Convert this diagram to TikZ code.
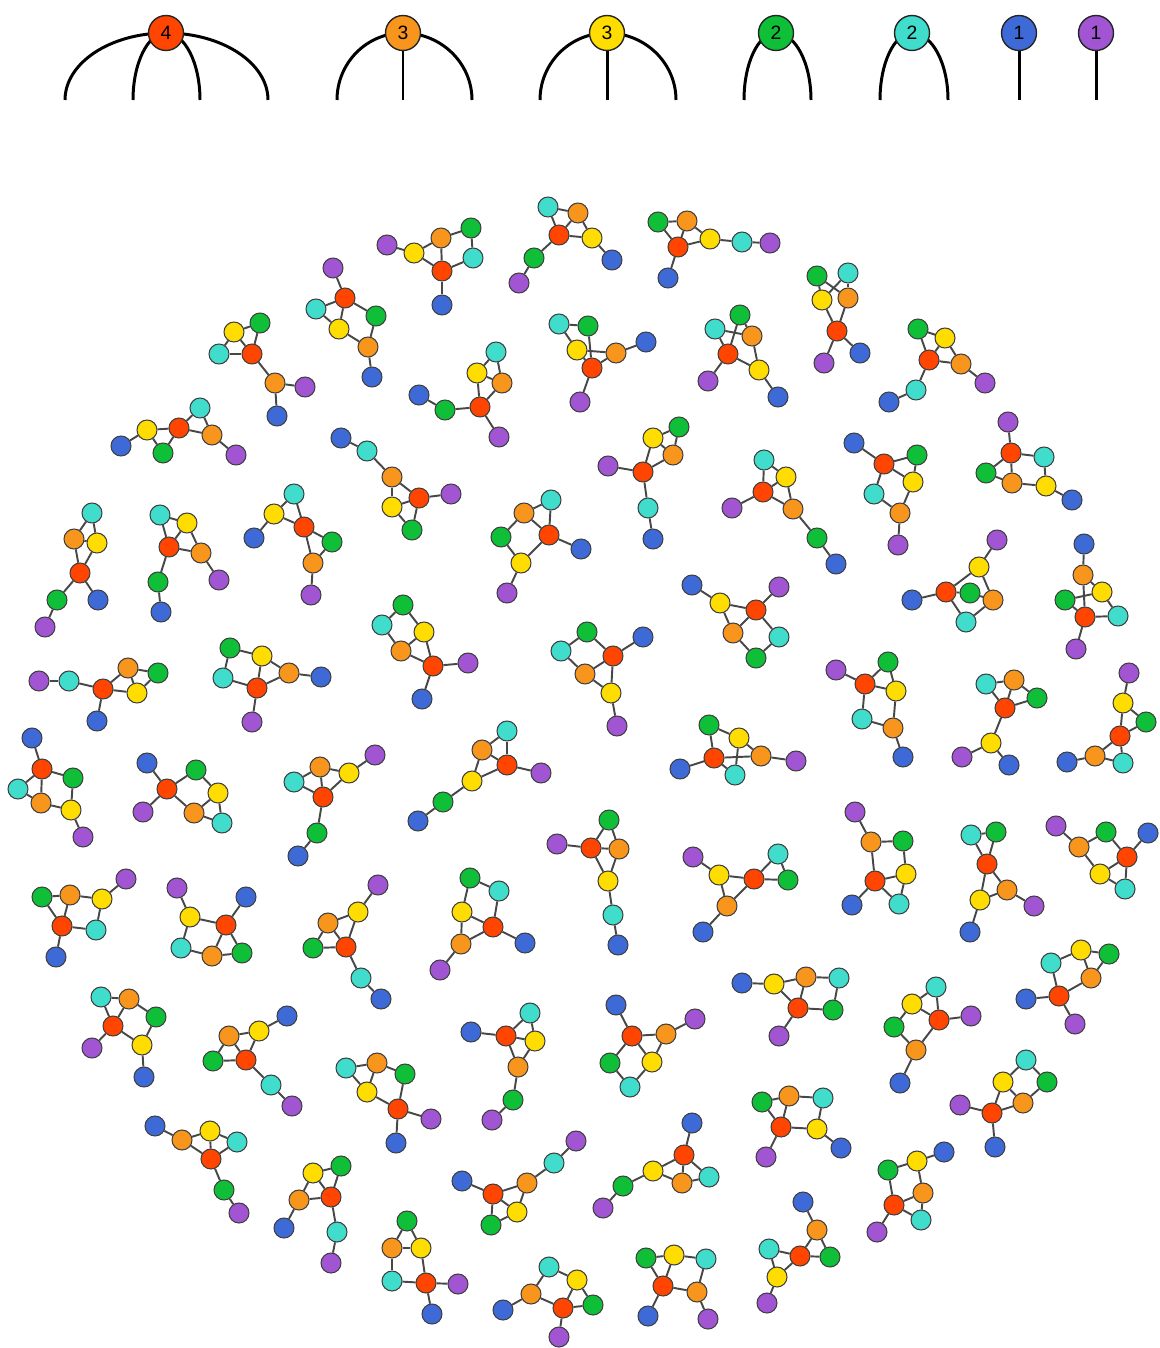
\documentclass[tikz,border=0pt]{standalone}
\usepackage{fontspec}
\setmainfont{Liberation Sans}
\pgfdeclarelayer{bg}
\pgfsetlayers{bg,main}
\definecolor{cR}{HTML}{FF4500}
\definecolor{cO}{HTML}{F8951D}
\definecolor{cY}{HTML}{FFDD00}
\definecolor{cG}{HTML}{10BF38}
\definecolor{cC}{HTML}{40DDCC}
\definecolor{cB}{HTML}{3D6AD6}
\definecolor{cP}{HTML}{A155D3}
\tikzset{
  atom/.style={circle,draw=black!75,line width=0.6pt,minimum size=0.4cm,inner sep=0pt},
  bond/.style={draw=black!72,line width=1.1pt},
  lgnode/.style={circle,draw=black!85,line width=0.8pt,minimum size=0.7cm,inner sep=0pt,font=\fontsize{11}{13}\selectfont},
  legline/.style={draw=black,line width=1.7pt}
}
\newcommand\mol[3]{%
  \foreach \t/\x/\y in {#2}{\node[atom,fill=c\t] (#1\t) at (\x,\y) {};}%
  \foreach \a/\b in {#3}{\draw[bond] (#1\a) -- (#1\b);}%
}
\newcommand\legarc[3]{\draw[legline] (#1) .. controls +(0,-37) and +(#3,0) .. (#2.center);}
\begin{document}
\begin{tikzpicture}[x=0.02cm,y=-0.02cm]
\useasboundingbox (0,0) rectangle (1159,1348);
% legend
\node[lgnode,fill=cR] (L4) at (166,33) {4};
\node[lgnode,fill=cO] (L3a) at (403,33) {3};
\node[lgnode,fill=cY] (L3b) at (607,33) {3};
\node[lgnode,fill=cG] (L2a) at (776,33) {2};
\node[lgnode,fill=cC] (L2b) at (912,33) {2};
\node[lgnode,fill=cB] (L1a) at (1019,33) {1};
\node[lgnode,fill=cP] (L1b) at (1096,33) {1};
\coordinate (e4a) at (65,100);  \coordinate (e4b) at (133,100);
\coordinate (e4c) at (200,100); \coordinate (e4d) at (268,100);
\coordinate (e3a) at (337,100); \coordinate (e3b) at (403,100); \coordinate (e3c) at (472,100);
\coordinate (e3d) at (540,100); \coordinate (e3e) at (607,100); \coordinate (e3f) at (676,100);
\coordinate (e2a) at (744,100); \coordinate (e2b) at (811,100);
\coordinate (e2c) at (880,100); \coordinate (e2d) at (948,100);
\coordinate (e1a) at (1019,100); \coordinate (e1b) at (1096,100);
\begin{pgfonlayer}{bg}
\legarc{e4a}{L4}{-55.8}
\legarc{e4b}{L4}{-18.2}
\legarc{e4c}{L4}{18.8}
\legarc{e4d}{L4}{56.3}
\legarc{e3a}{L3a}{-36.4}
\draw[legline] (e3b) -- (L3a.center);
\legarc{e3c}{L3a}{38.1}
\legarc{e3d}{L3b}{-37}
\draw[legline] (e3e) -- (L3b.center);
\legarc{e3f}{L3b}{38.1}
\legarc{e2a}{L2a}{-17.7}
\legarc{e2b}{L2a}{19.3}
\legarc{e2c}{L2b}{-17.7}
\legarc{e2d}{L2b}{19.9}
\draw[legline] (e1a) -- (L1a.center);
\draw[legline] (e1b) -- (L1b.center);
\end{pgfonlayer}
% molecules
\mol{m1}{R/442/271,O/441/238,Y/414/253,G/471/228,C/473/258,B/442/305,P/387/245}{P/Y,Y/O,Y/R,O/G,O/R,G/C,C/R,R/B}
\mol{m2}{R/559/235,O/578/213,Y/592/238,G/534/258,C/548/207,B/612/260,P/519/283}{C/O,C/R,O/R,O/Y,R/Y,Y/B,R/G,G/P}
\mol{m3}{R/678/247,O/687/221,Y/710/239,G/658/222,C/742/242,B/668/278,P/770/243}{G/O,G/R,O/R,O/Y,R/Y,Y/C,C/P,R/B}
\mol{m4}{R/480/407,O/502/383,Y/477/373,G/445/410,C/496/352,B/419/395,P/499/437}{B/G,G/R,R/Y,R/O,R/P,Y/O,Y/C,C/O}
\mol{m5}{R/592/368,O/616/353,Y/577/350,G/588/326,C/559/324,B/646/342,P/580/402}{C/G,C/Y,G/R,Y/O,Y/R,O/R,O/B,R/P}
\mol{m6}{R/728/354,O/752/336,Y/759/370,G/740/315,C/715/329,B/778/397,P/708/381}{G/R,G/O,C/O,C/R,O/Y,R/Y,R/P,Y/B}
\mol{m7}{R/643/472,O/673/455,Y/653/438,G/679/427,C/648/508,B/653/539,P/608/466}{Y/G,G/O,Y/O,Y/R,O/R,R/P,R/C,C/B}
\mol{m8}{R/345/298,O/368/347,Y/339/329,G/376/316,C/316/309,B/372/377,P/333/268}{P/R,R/C,R/G,R/Y,C/Y,Y/O,G/O,O/B}
\mol{m9}{R/252/354,O/275/383,Y/234/332,G/260/323,C/219/354,B/277/416,P/305/387}{Y/G,Y/C,Y/R,G/R,C/R,R/O,O/P,O/B}
\mol{m10}{R/179/428,O/212/435,Y/147/430,G/163/453,C/200/408,B/121/446,P/236/455}{C/R,C/O,Y/R,Y/B,Y/G,G/R,R/O,O/P}
\mol{m11}{R/419/498,O/392/477,Y/392/507,G/412/530,C/367/451,B/341/438,P/451/494}{B/C,C/O,O/R,O/Y,Y/R,R/P,Y/G,G/R}
\mol{m12}{R/837/331,O/848/298,Y/822/300,G/817/276,C/848/273,B/860/353,P/824/363}{G/O,C/Y,G/Y,C/O,Y/R,O/R,R/P,R/B}
\mol{m13}{R/929/360,O/961/364,Y/945/338,G/918/329,C/916/390,B/889/402,P/985/383}{G/Y,G/R,Y/R,Y/O,R/O,O/P,R/C,C/B}
\mol{m14}{R/884/464,O/900/513,Y/913/482,G/917/455,C/874/494,B/854/443,P/898/545}{B/R,R/G,G/Y,R/Y,R/C,C/O,Y/O,O/P}
\mol{m15}{R/1011/453,O/1012/483,Y/1046/486,G/986/473,C/1044/457,B/1072/500,P/1008/422}{P/R,R/C,R/G,R/O,G/O,C/Y,O/Y,Y/B}
\mol{m16}{R/763/492,O/793/509,Y/786/477,G/817/538,C/764/460,B/836/564,P/732/508}{C/Y,C/R,Y/R,Y/O,R/O,O/G,G/B,R/P}
\mol{m17}{R/80/573,O/74/539,Y/97/543,G/57/600,C/92/513,B/98/600,P/45/627}{C/O,C/Y,O/Y,O/R,Y/R,R/G,R/B,G/P}
\mol{m18}{R/169/547,O/201/553,Y/187/523,G/158/582,C/160/515,B/161/612,P/219/580}{C/Y,C/R,Y/R,Y/O,R/O,O/P,R/G,G/B}
\mol{m19}{R/304/527,O/313/563,Y/274/514,G/332/542,C/294/494,B/254/538,P/311/595}{C/Y,C/R,Y/R,Y/B,R/G,R/O,G/O,O/P}
\mol{m20}{R/103/689,O/128/668,Y/137/693,G/158/673,C/69/681,B/97/721,P/39/681}{P/C,C/R,R/O,R/Y,R/B,O/G,O/Y,G/Y}
\mol{m21}{R/257/688,O/289/673,Y/262/656,G/230/648,C/223/678,B/321/677,P/252/722}{G/Y,G/C,Y/R,Y/O,C/R,R/O,O/B,R/P}
\mol{m22}{R/42/769,O/41/803,Y/71/810,G/73/778,C/18/789,B/32/738,P/83/837}{B/R,R/C,R/G,R/O,C/O,O/Y,G/Y,Y/P}
\mol{m23}{R/167/789,O/194/813,Y/218/793,G/196/770,C/222/823,B/147/763,P/143/812}{B/R,R/G,G/Y,R/O,R/P,Y/O,Y/C,O/C}
\mol{m24}{R/323/797,O/320/767,Y/349/773,G/317/833,C/294/782,B/298/856,P/375/755}{C/O,C/R,O/Y,O/R,Y/P,Y/R,R/G,G/B}
\mol{m25}{R/62/926,O/70/895,Y/102/899,G/42/897,C/96/930,B/56/957,P/126/879}{G/O,G/R,O/Y,O/R,Y/P,Y/C,R/C,R/B}
\mol{m26}{R/226/925,O/212/956,Y/190/917,G/242/953,C/181/948,B/246/897,P/177/888}{P/Y,Y/R,Y/C,R/B,R/O,R/G,C/O,O/G}
\mol{m27}{R/346/947,O/328/923,Y/358/912,G/313/948,C/361/978,B/381/999,P/378/885}{P/Y,Y/O,Y/R,O/R,O/G,G/R,R/C,C/B}
\mol{m28}{R/113/1026,O/129/999,Y/142/1045,G/156/1017,C/101/997,B/144/1077,P/92/1048}{C/O,C/R,O/R,O/G,R/Y,R/P,G/Y,Y/B}
\mol{m29}{R/246/1060,O/229/1036,Y/259/1031,G/213/1061,C/271/1085,B/287/1016,P/292/1106}{B/Y,Y/O,Y/R,O/R,O/G,G/R,R/C,C/P}
\mol{m30}{R/398/1109,O/377/1063,Y/367/1092,G/405/1074,C/346/1068,B/396/1143,P/431/1119}{C/O,C/Y,O/Y,O/G,G/R,Y/R,R/P,R/B}
\mol{m31}{R/211/1159,O/182/1140,Y/210/1131,G/224/1190,C/237/1142,B/155/1126,P/239/1213}{B/O,O/Y,O/R,Y/R,Y/C,C/R,R/G,G/P}
\mol{m32}{R/331/1197,O/299/1200,Y/313/1173,G/341/1166,C/337/1232,B/284/1228,P/331/1263}{Y/G,Y/O,Y/R,G/R,O/R,O/B,R/C,C/P}
\mol{m33}{R/426/1283,O/392/1248,Y/421/1248,G/407/1221,C/392/1281,B/432/1314,P/458/1284}{G/O,G/Y,O/Y,O/C,Y/R,C/R,R/P,R/B}
\mol{m35}{R/506/1036,O/518/1067,Y/535/1041,G/513/1100,C/530/1013,B/471/1032,P/492/1120}{B/R,R/C,C/Y,R/Y,R/O,Y/O,O/G,G/P}
\mol{m36}{R/632/1036,O/666/1034,Y/652/1062,G/610/1063,C/630/1087,B/616/1005,P/695/1019}{B/R,R/O,O/P,R/G,R/Y,O/Y,G/C,C/Y}
\mol{m37}{R/493/1194,O/527/1183,Y/517/1212,G/491/1225,C/554/1163,B/462/1181,P/576/1141}{B/R,R/O,O/C,C/P,R/Y,O/Y,R/G,G/Y}
\mol{m38}{R/684/1155,O/682/1183,Y/653/1171,G/623/1186,C/709/1177,B/692/1123,P/603/1208}{B/R,R/Y,R/O,R/C,Y/O,C/O,Y/G,G/P}
\mol{m39}{R/563/1308,O/531/1294,Y/577/1280,G/593/1305,C/549/1267,B/503/1310,P/559/1337}{C/Y,C/O,Y/R,Y/G,O/R,O/B,R/G,R/P}
\mol{m40}{R/663/1286,O/697/1292,Y/674/1255,G/646/1258,C/706/1259,B/648/1316,P/708/1319}{G/Y,G/R,Y/R,Y/C,C/O,R/O,R/B,O/P}
\mol{m41}{R/939/1020,O/916/1050,Y/912/1004,G/894/1027,C/936/987,B/900/1083,P/971/1016}{C/Y,C/R,Y/R,R/P,Y/G,G/O,R/O,O/B}
\mol{m43}{R/781/1127,O/789/1096,Y/817/1129,G/762/1102,C/823/1098,B/841/1148,P/766/1157}{G/O,G/R,O/C,O/R,C/Y,R/Y,Y/B,R/P}
\mol{m44}{R/992/1113,O/1023/1103,Y/1003/1082,G/1047/1082,C/1026/1060,B/995/1147,P/960/1105}{C/Y,C/G,Y/O,Y/R,G/O,O/R,R/P,R/B}
\mol{m45}{R/894/1205,O/923/1193,Y/917/1161,G/888/1170,C/921/1220,B/944/1152,P/877/1232}{G/Y,G/R,Y/B,Y/O,O/R,O/C,R/C,R/P}
\mol{m46}{R/800/1256,O/817/1230,Y/777/1277,G/830/1257,C/769/1249,B/803/1202,P/767/1303}{B/O,O/R,O/G,C/R,C/Y,R/G,R/Y,Y/P}
\mol{m47}{R/875/881,O/871/842,Y/906/874,G/903/841,C/899/904,B/852/905,P/855/812}{P/O,O/G,O/R,G/Y,R/Y,R/B,R/C,C/Y}
\mol{m48}{R/987/864,O/1007/890,Y/980/900,G/996/832,C/971/835,B/970/932,P/1034/906}{C/G,C/R,G/R,R/O,R/Y,O/Y,O/P,Y/B}
\mol{m49}{R/1127/857,O/1079/847,Y/1100/874,G/1106/832,C/1125/889,B/1148/833,P/1056/826}{P/O,O/G,O/Y,G/R,R/B,R/Y,R/C,Y/C}
\mol{m50}{R/754/879,O/727/906,Y/719/875,G/788/880,C/778/854,B/703/932,P/693/857}{P/Y,Y/R,Y/O,O/R,R/C,R/G,C/G,O/B}
\mol{m51}{R/798/1008,O/806/977,Y/774/984,G/833/1010,C/839/978,B/742/983,P/779/1036}{B/Y,Y/O,Y/R,O/R,O/C,C/G,R/G,R/P}
\mol{m52}{R/1059/996,O/1091/978,Y/1081/950,G/1109/954,C/1051/963,B/1026/999,P/1075/1024}{C/Y,C/R,Y/G,Y/O,G/O,O/R,R/B,R/P}
\mol{m53}{R/507/765,O/482/750,Y/472/781,G/443/802,C/507/731,B/418/821,P/541/773}{C/O,C/R,O/R,O/Y,R/Y,R/P,Y/G,G/B}
\mol{m54}{R/591/848,O/619/849,Y/608/881,G/609/820,C/613/915,B/618/945,P/557/844}{G/R,G/O,P/R,R/O,R/Y,O/Y,Y/C,C/B}
\mol{m55}{R/493/927,O/461/944,Y/462/912,G/470/878,C/499/891,B/525/943,P/440/970}{G/C,G/Y,C/R,Y/R,Y/O,R/O,R/B,O/P}
\mol{m56}{R/714/758,O/761/756,Y/739/738,G/709/725,C/735/775,B/680/769,P/796/761}{G/Y,G/R,R/B,R/O,R/C,Y/C,Y/O,O/P}
\mol{m57}{R/549/535,O/524/513,Y/521/563,G/501/537,C/551/500,B/581/549,P/507/593}{C/O,C/R,O/G,O/R,G/Y,R/Y,R/B,Y/P}
\mol{m58}{R/433/666,O/401/651,Y/424/632,G/403/605,C/382/625,B/422/699,P/468/663}{G/C,G/Y,C/O,Y/O,Y/R,O/R,R/P,R/B}
\mol{m59}{R/613/656,O/585/674,Y/611/693,G/587/632,C/561/651,B/643/637,P/617/726}{G/C,G/R,C/O,R/B,R/O,R/Y,O/Y,Y/P}
\mol{m60}{R/756/610,O/733/633,Y/720/603,G/756/658,C/779/637,B/692/585,P/779/587}{B/Y,Y/R,Y/O,R/P,R/O,R/C,C/G,G/O}
\mol{m62}{R/946/592,O/993/600,Y/979/567,G/970/593,C/966/622,B/912/600,P/997/540}{P/Y,Y/R,Y/O,R/B,R/G,G/O,R/C,C/O}
\mol{m63}{R/1085/617,O/1083/575,Y/1102/592,G/1065/600,C/1118/616,B/1084/544,P/1076/649}{B/O,O/R,G/Y,G/R,O/Y,R/C,C/Y,R/P}
\mol{m64}{R/865/684,O/893/728,Y/896/691,G/888/662,C/862/719,B/903/757,P/836/670}{P/R,R/G,G/Y,R/Y,R/C,C/O,Y/O,O/B}
\mol{m65}{R/1005/708,O/1014/680,Y/991/743,G/1037/698,C/986/684,B/1009/765,P/962/757}{C/O,C/R,O/G,O/R,G/R,R/Y,Y/P,Y/B}
\mol{m66}{R/1120/736,O/1095/756,Y/1123/703,G/1146/722,C/1123/763,B/1067/762,P/1129/673}{P/Y,Y/G,Y/R,G/R,R/O,R/C,O/C,O/B}
\end{tikzpicture}
\end{document}
